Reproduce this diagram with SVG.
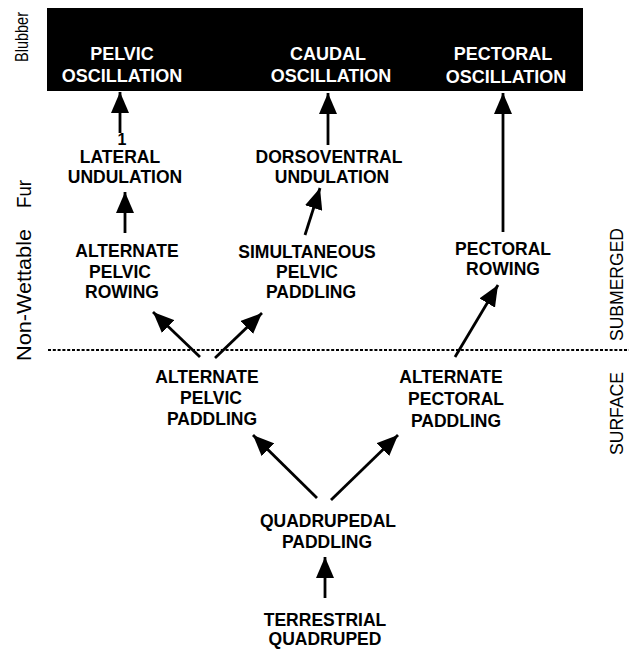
<svg xmlns="http://www.w3.org/2000/svg" width="629" height="650" viewBox="0 0 629 650">
<style>
.t{font-family:"Liberation Sans",Arial,sans-serif;font-weight:bold;font-size:17.5px;fill:#000;text-anchor:middle}
.w{font-family:"Liberation Sans",Arial,sans-serif;font-weight:bold;font-size:18px;fill:#fff;text-anchor:middle}
.s{font-family:"Liberation Sans",Arial,sans-serif;font-size:17.5px;fill:#000;text-anchor:middle}
.a{stroke:#000;stroke-width:2.8;fill:none;marker-end:url(#ah)}
</style>
<defs>
<marker id="ah" viewBox="0 0 21 18" refX="21" refY="9" markerWidth="21" markerHeight="18" markerUnits="userSpaceOnUse" orient="auto">
<path d="M0,0 L21,9 L0,18 Z" fill="#000"/>
</marker>
</defs>
<rect width="629" height="650" fill="#fff"/>
<g id="side-labels">
<text class="s" style="font-size:18px;text-anchor:start" transform="translate(28,62) rotate(-90)" textLength="50" lengthAdjust="spacingAndGlyphs">Blubber</text>
<text class="s" style="font-size:20px;text-anchor:start" transform="translate(31,361) rotate(-90)"><tspan x="0" textLength="132" lengthAdjust="spacingAndGlyphs">Non-Wettable</tspan><tspan x="153" textLength="28" lengthAdjust="spacingAndGlyphs">Fur</tspan></text>
<text class="s" transform="translate(623,284.5) rotate(-90)" textLength="113" lengthAdjust="spacingAndGlyphs">SUBMERGED</text>
<text class="s" transform="translate(623,413.5) rotate(-90)" textLength="83" lengthAdjust="spacingAndGlyphs">SURFACE</text>
</g>
<line x1="48" y1="350" x2="629" y2="350" stroke="#000" stroke-width="2" stroke-dasharray="3 1.8"/>
<g id="blubber-box">
<rect x="47" y="8" width="536" height="83" fill="#000"/>
</g>
<g id="pelvic-oscillation"><text class="w" x="122" y="60">PELVIC</text><text class="w" x="122" y="82">OSCILLATION</text></g>
<g id="caudal-oscillation"><text class="w" x="328" y="60">CAUDAL</text><text class="w" x="331" y="82">OSCILLATION</text></g>
<g id="pectoral-oscillation"><text class="w" x="503" y="60">PECTORAL</text><text class="w" x="506" y="83">OSCILLATION</text></g>
<g id="lateral-undulation"><text class="t" style="font-size:16px" x="122" y="145">1</text><text class="t" x="120" y="163">LATERAL</text><text class="t" x="125" y="183">UNDULATION</text></g>
<g id="dorsoventral-undulation"><text class="t" x="329" y="163">DORSOVENTRAL</text><text class="t" x="332" y="183">UNDULATION</text></g>
<g id="alternate-pelvic-rowing"><text class="t" x="127" y="257">ALTERNATE</text><text class="t" x="120" y="278">PELVIC</text><text class="t" x="122" y="298">ROWING</text></g>
<g id="simultaneous-pelvic-paddling"><text class="t" x="307" y="258">SIMULTANEOUS</text><text class="t" x="307" y="278">PELVIC</text><text class="t" x="311" y="298">PADDLING</text></g>
<g id="pectoral-rowing"><text class="t" x="503" y="255">PECTORAL</text><text class="t" x="503" y="275">ROWING</text></g>
<g id="alternate-pelvic-paddling"><text class="t" x="207" y="383">ALTERNATE</text><text class="t" x="211" y="404">PELVIC</text><text class="t" x="212" y="425">PADDLING</text></g>
<g id="alternate-pectoral-paddling"><text class="t" x="451" y="383">ALTERNATE</text><text class="t" x="456" y="405">PECTORAL</text><text class="t" x="456" y="427">PADDLING</text></g>
<g id="quadrupedal-paddling"><text class="t" x="328" y="527">QUADRUPEDAL</text><text class="t" x="327" y="548">PADDLING</text></g>
<g id="terrestrial-quadruped"><text class="t" x="325" y="626">TERRESTRIAL</text><text class="t" x="325" y="645">QUADRUPED</text></g>
<g id="connectors">
<line class="a" x1="120" y1="133" x2="120" y2="92"/>
<line class="a" x1="328" y1="145" x2="328" y2="93"/>
<line class="a" x1="503" y1="232" x2="503" y2="93"/>
<line class="a" x1="125" y1="233" x2="125" y2="192"/>
<line class="a" x1="305" y1="235" x2="320" y2="188"/>
<line class="a" x1="200" y1="357" x2="153" y2="312"/>
<line class="a" x1="215" y1="358" x2="262" y2="313"/>
<line class="a" x1="455" y1="357" x2="498" y2="285"/>
<line class="a" x1="317" y1="498" x2="253" y2="435"/>
<line class="a" x1="331" y1="500" x2="398" y2="435"/>
<line class="a" x1="325" y1="598" x2="325" y2="557"/>
</g>
</svg>
